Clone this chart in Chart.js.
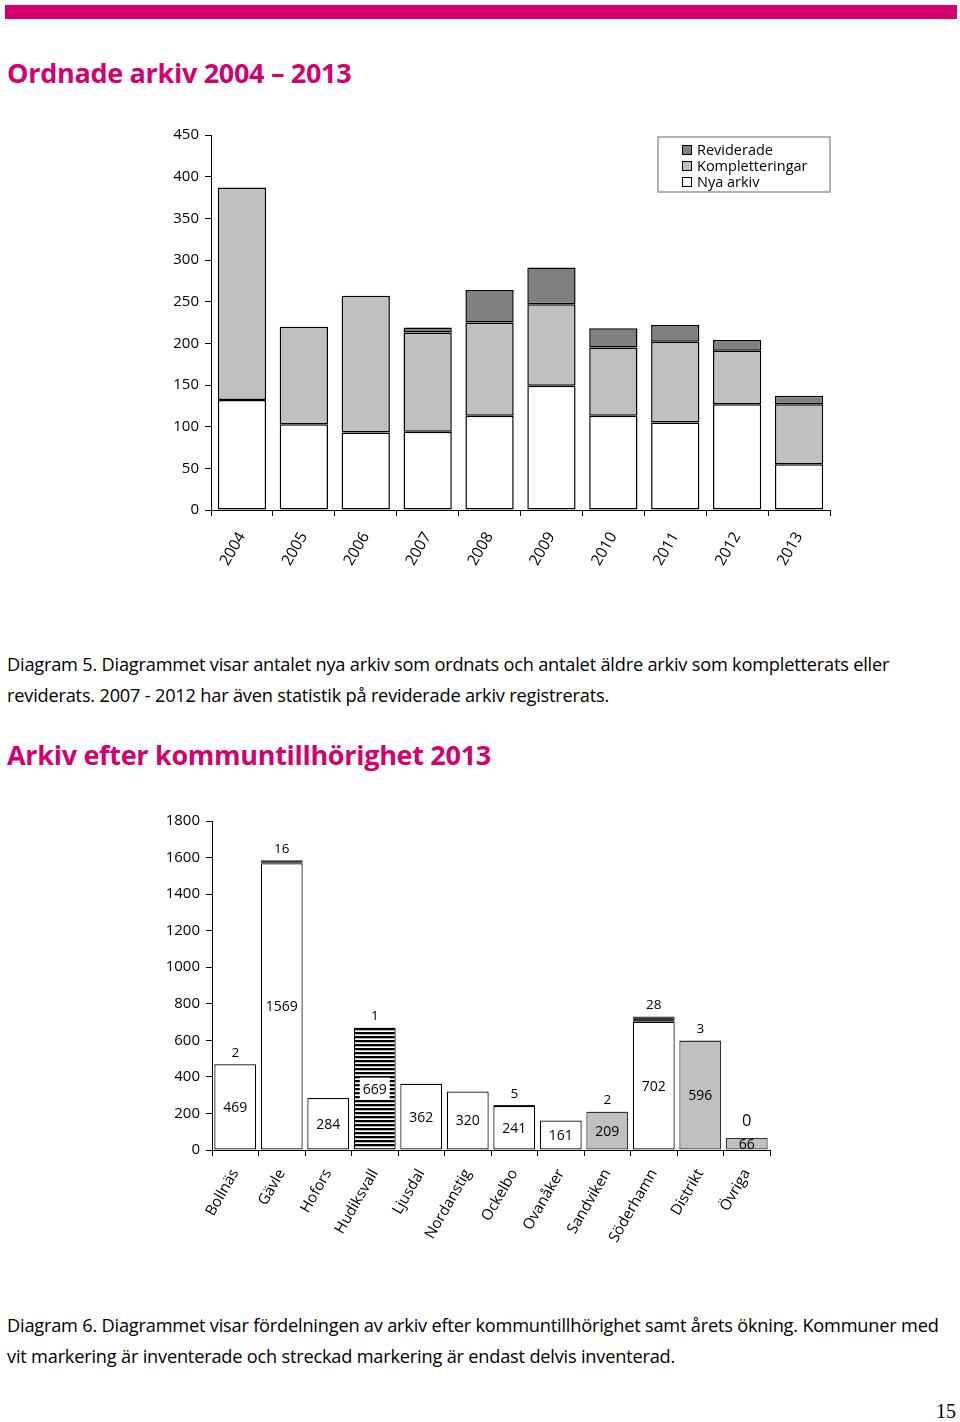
<!DOCTYPE html>
<html><head><meta charset="utf-8">
<script src="https://cdn.jsdelivr.net/npm/chart.js@4/dist/chart.umd.min.js"></script>
<style>
html,body{margin:0;padding:0;background:#fff;}
body{width:960px;height:1422px;position:relative;overflow:hidden;font-family:"Open Sans",sans-serif;color:#000;}
.bar{position:absolute;left:5px;top:5px;width:952px;height:14px;background:#d4006e;}
h1{position:absolute;left:7px;margin:0;font-family:"Open Sans",sans-serif;font-weight:700;color:#d4006e;font-size:27px;letter-spacing:-0.3px;white-space:nowrap;}
.cap{position:absolute;left:7px;margin:0;font-size:18.2px;line-height:30.5px;white-space:nowrap;letter-spacing:-0.2px;}
.pn{position:absolute;left:936px;top:1400px;font-family:"Liberation Serif",serif;font-size:20px;}
canvas{position:absolute;}
</style></head>
<body>
<div class="bar"></div>
<h1 style="top:54px">Ordnade arkiv 2004 – 2013</h1>
<div id="c1wrap" style="position:absolute;left:150px;top:120px;width:700px;height:460px;"><canvas id="c1"></canvas></div>
<p class="cap" style="top:649px">Diagram 5. Diagrammet visar antalet nya arkiv som ordnats och antalet äldre arkiv som kompletterats eller<br>reviderats. 2007 - 2012 har även statistik på reviderade arkiv registrerats.</p>
<h1 style="top:736px">Arkiv efter kommuntillhörighet 2013</h1>
<div id="c2wrap" style="position:absolute;left:150px;top:800px;width:640px;height:450px;"><canvas id="c2"></canvas></div>
<p class="cap" style="top:1310px">Diagram 6. Diagrammet visar fördelningen av arkiv efter kommuntillhörighet samt årets ökning. Kommuner med<br>vit markering är inventerade och streckad markering är endast delvis inventerad.</p>
<div class="pn">15</div>
<script>
// ---- Chart 1 data ----
const years = ["2004","2005","2006","2007","2008","2009","2010","2011","2012","2013"];
const nyaArkiv = [132,103,93,94,113,149,113,105,127,55];
const kompletteringar = [255,117,164,119,112,98,82,97,64,72];
const reviderade = [0,0,0,6,39,44,23,20,13,10];
const yTicks1 = [0,50,100,150,200,250,300,350,400,450];

// ---- Chart 2 data ----
const kommuner = ["Bollnäs","Gävle","Hofors","Hudiksvall","Ljusdal","Nordanstig","Ockelbo","Ovanåker","Sandviken","Söderhamn","Distrikt","Övriga"];
const arkivBas = [469,1569,284,669,362,320,241,161,209,702,596,66];
const arsOkning = [2,16,null,1,null,null,5,null,2,28,3,0];
const inventering = ["vit","vit","vit","streckad","vit","vit","vit","vit","grå","vit","grå","grå"];
const yTicks2 = [0,200,400,600,800,1000,1200,1400,1600,1800];

const FONT = "'Open Sans', sans-serif";
Chart.defaults.font.family = FONT;
Chart.defaults.color = '#000';
Chart.defaults.animation = false;

function axisCommon(){
  return {
    border:{display:true,color:'#000',width:1},
    grid:{display:true,drawOnChartArea:false,drawTicks:true,tickLength:6,color:'#000',lineWidth:1}
  };
}

// Legend plugin chart 1
const legend1 = {
  id:'legend1',
  afterDraw(chart){
    const ctx = chart.ctx;
    const x0 = 508, y0 = 17, w = 172, h = 55;
    ctx.save();
    ctx.strokeStyle = '#999'; ctx.lineWidth = 1.5;
    ctx.strokeRect(x0, y0, w, h);
    const ds = chart.data.datasets.slice().reverse();
    ctx.font = "14.5px " + FONT;
    ctx.textBaseline = 'middle';
    ds.forEach((d,i)=>{
      const cy = y0 + 13 + i*16;
      ctx.fillStyle = d.backgroundColor;
      ctx.fillRect(x0+24, cy-5, 10, 10);
      ctx.strokeStyle = '#000'; ctx.lineWidth = 1;
      ctx.strokeRect(x0+24.5, cy-4.5, 9, 9);
      ctx.fillStyle = '#000';
      ctx.fillText(d.label, x0+39, cy+0.5);
    });
    ctx.restore();
  }
};

new Chart(document.getElementById('c1'), {
  type:'bar',
  data:{
    labels: years,
    datasets:[
      {label:'Nya arkiv', data:nyaArkiv, backgroundColor:'#ffffff', borderColor:'#000', borderWidth:1.5, borderSkipped:false},
      {label:'Kompletteringar', data:kompletteringar, backgroundColor:'#c0c0c0', borderColor:'#000', borderWidth:1.5, borderSkipped:false},
      {label:'Reviderade', data:reviderade, backgroundColor:'#808080', borderColor:'#000', borderWidth:1.5, borderSkipped:false}
    ]
  },
  options:{
    responsive:true, maintainAspectRatio:false,
    layout:{padding:{top:15,right:20,left:0,bottom:0}},
    plugins:{legend:{display:false}, tooltip:{enabled:false}},
    datasets:{bar:{barPercentage:0.78, categoryPercentage:1}},
    scales:{
      x:Object.assign(axisCommon(),{
        stacked:true,
        ticks:{maxRotation:60,minRotation:60,padding:13,font:{size:15.5}},
        afterFit(s){ s.height = 70; }
      }),
      y:Object.assign(axisCommon(),{
        stacked:true, min:0, max:450,
        afterBuildTicks(s){ s.ticks = yTicks1.map(v=>({value:v})); },
        ticks:{padding:6,font:{size:15},callback:v=>String(v)},
        afterFit(s){ s.width = 61; }
      })
    }
  },
  plugins:[legend1]
});

// stripe pattern
function stripePattern(){
  const c = document.createElement('canvas'); c.width = 4; c.height = 4;
  const x = c.getContext('2d');
  x.fillStyle = '#fff'; x.fillRect(0,0,4,4);
  x.fillStyle = '#000'; x.fillRect(0,0,4,2.3);
  return x.createPattern(c,'repeat');
}
const stripes = stripePattern();
const fillFor = {vit:'#ffffff', streckad:stripes, 'grå':'#c0c0c0'};
const borderFor = {vit:'#000', streckad:'#000', 'grå':'#333'};

const labels2 = {
  id:'labels2',
  afterDatasetsDraw(chart){
    const ctx = chart.ctx;
    const m0 = chart.getDatasetMeta(0), m1 = chart.getDatasetMeta(1);
    ctx.save();
    ctx.textAlign = 'center'; ctx.textBaseline = 'middle';
    m0.data.forEach((bar,i)=>{
      const cy = (bar.y + bar.base)/2;
      ctx.font = "14px " + FONT;
      const txt = String(arkivBas[i]);
      if (inventering[i]==='streckad'){
        const tw = ctx.measureText(txt).width;
        ctx.fillStyle = '#fff';
        ctx.fillRect(bar.x - tw/2 - 3, cy - 11, tw + 6, 22);
      }
      ctx.fillStyle = '#000';
      ctx.fillText(txt, bar.x, cy+1);
      const inc = arsOkning[i];
      if (inc !== null){
        const top = m1.data[i].y;
        if (inc === 0){
          ctx.font = "16.5px " + FONT;
          ctx.fillText(String(inc), bar.x, top - 17);
        } else {
          ctx.font = "13.5px " + FONT;
          ctx.fillText(String(inc), bar.x, top - 11);
        }
      }
    });
    ctx.restore();
  }
};

new Chart(document.getElementById('c2'), {
  type:'bar',
  data:{
    labels: kommuner,
    datasets:[
      {label:'Arkiv', data:arkivBas, backgroundColor:inventering.map(k=>fillFor[k]), borderColor:inventering.map(k=>borderFor[k]), borderWidth:1.2, borderSkipped:false},
      {label:'Ökning', data:arsOkning.map(v=>v===null?0:v), backgroundColor:'#333', borderColor:'#222', borderWidth:0.8, borderSkipped:false}
    ]
  },
  options:{
    responsive:true, maintainAspectRatio:false,
    layout:{padding:{top:21,right:20,left:0,bottom:0}},
    plugins:{legend:{display:false}, tooltip:{enabled:false}},
    datasets:{bar:{barPercentage:0.9, categoryPercentage:1}},
    scales:{
      x:Object.assign(axisCommon(),{
        stacked:true,
        ticks:{maxRotation:60,minRotation:60,padding:10,font:{size:15}},
        afterFit(s){ s.height = 100; }
      }),
      y:Object.assign(axisCommon(),{
        stacked:true, min:0, max:1800,
        afterBuildTicks(s){ s.ticks = yTicks2.map(v=>({value:v})); },
        ticks:{padding:6,font:{size:15},callback:v=>String(v)},
        afterFit(s){ s.width = 62; }
      })
    }
  },
  plugins:[labels2]
});
</script>
</body></html>
